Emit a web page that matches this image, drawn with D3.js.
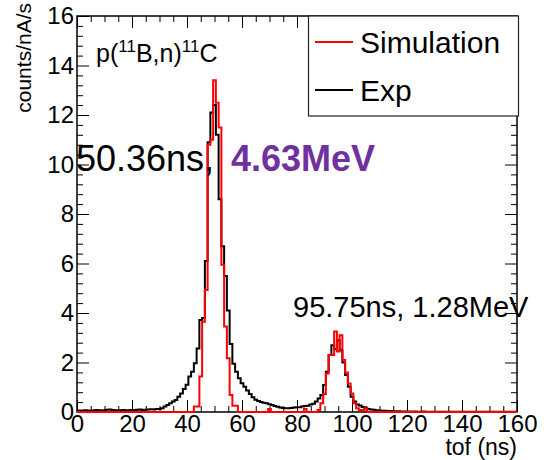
<!DOCTYPE html>
<html><head><meta charset="utf-8">
<script src="https://cdn.jsdelivr.net/npm/d3@7"></script>
<style>
body{margin:0;background:#fff}
svg{display:block}
text{font-family:"Liberation Sans",Arial,Helvetica,sans-serif}
</style>
</head><body>
<svg id="chart" width="544" height="460"></svg>
<script>
// ---------- data ----------
const tofDomain = [0, 160];
const countsDomain = [0, 16];
const binWidth = 1;          // ns, bins centred on integer tof values
const firstBinCenter = 0;
const xTickValues = [0, 20, 40, 60, 80, 100, 120, 140, 160];
const yTickValues = [0, 2, 4, 6, 8, 10, 12, 14, 16];
const seriesNames = ["Simulation", "Exp"];
const seriesColors = ["#ff0000", "#000000"];

// Exp (black), bins centred at 0..160 ns
const expCounts = [
  0.05,0.06,0.05,0.07,0.06,0.05,0.06,0.08,0.07,0.06,
  0.07,0.09,0.10,0.08,0.07,0.06,0.07,0.08,0.06,0.07,
  0.08,0.07,0.09,0.10,0.08,0.09,0.10,0.11,0.10,0.12,
  0.12,0.15,0.22,0.28,0.35,0.42,0.48,0.62,0.75,0.93,
  1.10,1.43,1.63,1.97,2.57,3.72,3.80,6.10,10.9,12.1,
  12.4,11.2,8.6,6.7,5.5,4.1,2.75,1.95,1.63,1.36,
  1.16,1.02,0.87,0.73,0.60,0.50,0.44,0.40,0.37,0.35,
  0.31,0.28,0.24,0.21,0.18,0.16,0.15,0.15,0.16,0.18,
  0.19,0.19,0.22,0.24,0.25,0.30,0.33,0.42,0.55,0.69,
  1.09,1.63,2.30,2.70,2.55,2.90,2.50,2.00,1.50,1.02,
  0.62,0.42,0.30,0.26,0.20,0.17,0.12,0.10,0.09,0.07,
  0.06,0.05,0.05,0.04,0.04,0.03,0.03,0.03,0.02,0.02,
  0.02,0.02,0.01,0.02,0.01,0.01,0.02,0.01,0.01,0.01,
  0.01,0.01,0.01,0.01,0.01,0.01,0.01,0.01,0.01,0.01,
  0.01,0.01,0.01,0.01,0.01,0.01,0.01,0.01,0.01,0.01,
  0.01,0.01,0.01,0.01,0.01,0.01,0.01,0.01,0.01,0.01,
  0.01
];

// Simulation (red), bins centred at 0..160 ns
const simCounts = [
  0,0,0,0,0,0,0,0,0,0,
  0,0,0,0,0,0,0,0,0,0,
  0,0,0,0,0,0,0,0,0,0,
  0,0,0,0,0,0,0,0,0,0,
  0,0,0,0.22,0.22,1.43,3.65,4.93,10.8,11.0,
  13.4,12.5,11.5,5.95,3.45,2.17,0.69,0.25,0.25,0,
  0,0,0,0,0,0,0,0,0,0,
  0.12,0,0,0,0,0,0,0,0,0,
  0,0,0,0.12,0,0,0,0,0.08,0.35,
  0.73,1.56,2.30,2.30,3.25,2.44,3.10,2.10,1.60,1.15,
  0.75,0.35,0.15,0.08,0.08,0.15,0,0,0,0,
  0,0,0,0,0,0,0,0,0,0,
  0,0,0,0,0,0,0,0,0,0,
  0,0,0,0,0,0,0,0,0,0,
  0,0,0,0,0,0,0,0,0,0,
  0,0,0,0,0,0,0,0,0,0,
  0
];

const reactionLabel = {pre: "p(", sup1: "11", mid: "B,n)", sup2: "11", post: "C"};
const peak1Time = "50.36ns,";
const peak1Energy = "4.63MeV";
const peak2Label = "95.75ns, 1.28MeV";
const xTitle = "tof (ns)";
const yTitle = "counts/nA/s";

// ---------- layout ----------
const svg = d3.select("#chart");
const L = 77, R = 517, T = 16, B = 412;
const x = d3.scaleLinear().domain(tofDomain).range([L, R]);
const y = d3.scaleLinear().domain(countsDomain).range([B, T]);
const FONT = '"Liberation Sans",Arial,Helvetica,sans-serif';

// minor tick positions (structural)
const xMinor = d3.range(tofDomain[0], tofDomain[1] + 0.001, 5).filter(v => v % 20 !== 0);
const yMinor = d3.range(0, 16.001, 0.4).map(v => +v.toFixed(1)).filter(v => Math.abs(v / 2 - Math.round(v / 2)) > 1e-6);

function styleAxis(g) {
  g.select(".domain").remove();
  g.selectAll(".tick line").attr("stroke", "#000").attr("stroke-width", 1);
}

// bottom axis with labels
svg.append("g").attr("transform", `translate(0,${B})`)
  .call(d3.axisBottom(x).tickValues(xTickValues).tickSize(-12).tickPadding(3).tickFormat(d3.format("d")))
  .call(styleAxis)
  .call(g => g.selectAll("text").attr("font-size", 24).attr("fill", "#000").attr("font-family", FONT));
svg.append("g").attr("transform", `translate(0,${B})`)
  .call(d3.axisBottom(x).tickValues(xMinor).tickSize(-6).tickFormat(""))
  .call(styleAxis);
// top axis
svg.append("g").attr("transform", `translate(0,${T})`)
  .call(d3.axisTop(x).tickValues(xTickValues).tickSize(-12).tickFormat(""))
  .call(styleAxis);
svg.append("g").attr("transform", `translate(0,${T})`)
  .call(d3.axisTop(x).tickValues(xMinor).tickSize(-6).tickFormat(""))
  .call(styleAxis);
// left axis with labels
svg.append("g").attr("transform", `translate(${L},0)`)
  .call(d3.axisLeft(y).tickValues(yTickValues).tickSize(-12).tickPadding(3).tickFormat(d3.format("d")))
  .call(styleAxis)
  .call(g => g.selectAll("text").attr("font-size", 24).attr("fill", "#000").attr("font-family", FONT));
svg.append("g").attr("transform", `translate(${L},0)`)
  .call(d3.axisLeft(y).tickValues(yMinor).tickSize(-6).tickFormat(""))
  .call(styleAxis);
// right axis
svg.append("g").attr("transform", `translate(${R},0)`)
  .call(d3.axisRight(y).tickValues(yTickValues).tickSize(-12).tickFormat(""))
  .call(styleAxis);
svg.append("g").attr("transform", `translate(${R},0)`)
  .call(d3.axisRight(y).tickValues(yMinor).tickSize(-6).tickFormat(""))
  .call(styleAxis);

// frame
svg.append("rect").attr("x", L).attr("y", T).attr("width", R - L).attr("height", B - T)
  .attr("fill", "none").attr("stroke", "#000").attr("stroke-width", 1.5);

// ---------- histograms ----------
function histPath(values) {
  const pts = [];
  values.forEach((v, i) => {
    const c = firstBinCenter + i * binWidth;
    const x0 = Math.max(tofDomain[0], c - binWidth / 2);
    const x1 = Math.min(tofDomain[1], c + binWidth / 2);
    pts.push([x(x0), y(v)], [x(x1), y(v)]);
  });
  return d3.line()(pts);
}
const seriesData = [simCounts, expCounts];
// draw Exp first, Simulation on top
[1, 0].forEach(k => {
  svg.append("path").attr("d", histPath(seriesData[k]))
    .attr("fill", "none").attr("stroke", seriesColors[k]).attr("stroke-width", 2)
    .attr("stroke-linejoin", "miter");
});

// ---------- texts ----------
svg.append("text").attr("x", 517).attr("y", 455).attr("text-anchor", "end")
  .attr("font-size", 23).text(xTitle);
svg.append("text").attr("transform", "translate(31,3) rotate(-90)").attr("text-anchor", "end")
  .attr("font-size", 21).text(yTitle);

const rl = svg.append("text").attr("x", 96).attr("y", 62).attr("font-size", 25);
rl.append("tspan").text(reactionLabel.pre);
rl.append("tspan").attr("font-size", 17).attr("dy", -10).text(reactionLabel.sup1);
rl.append("tspan").attr("dy", 10).text(reactionLabel.mid);
rl.append("tspan").attr("font-size", 17).attr("dy", -10).text(reactionLabel.sup2);
rl.append("tspan").attr("dy", 10).text(reactionLabel.post);

svg.append("text").attr("x", 76).attr("y", 171).attr("font-size", 36).attr("fill", "#000").text(peak1Time);
svg.append("text").attr("x", 231).attr("y", 171).attr("font-size", 36).attr("font-weight", "bold")
  .attr("fill", "#7030a0").text(peak1Energy);
svg.append("text").attr("x", 293).attr("y", 317).attr("font-size", 29).attr("fill", "#000").text(peak2Label);

// ---------- legend ----------
const lg = svg.append("g");
lg.append("rect").attr("x", 308.5).attr("y", 16).attr("width", 210).attr("height", 100)
  .attr("fill", "#fff").attr("stroke", "#222").attr("stroke-width", 1.2);
const legendY = [42, 90];
[0, 1].forEach(k => {
  lg.append("line").attr("x1", 315).attr("x2", 353).attr("y1", legendY[k]).attr("y2", legendY[k])
    .attr("stroke", seriesColors[k]).attr("stroke-width", 2);
  lg.append("text").attr("x", 360).attr("y", legendY[k] + 11).attr("font-size", 30).text(seriesNames[k]);
});
</script>
</body></html>
